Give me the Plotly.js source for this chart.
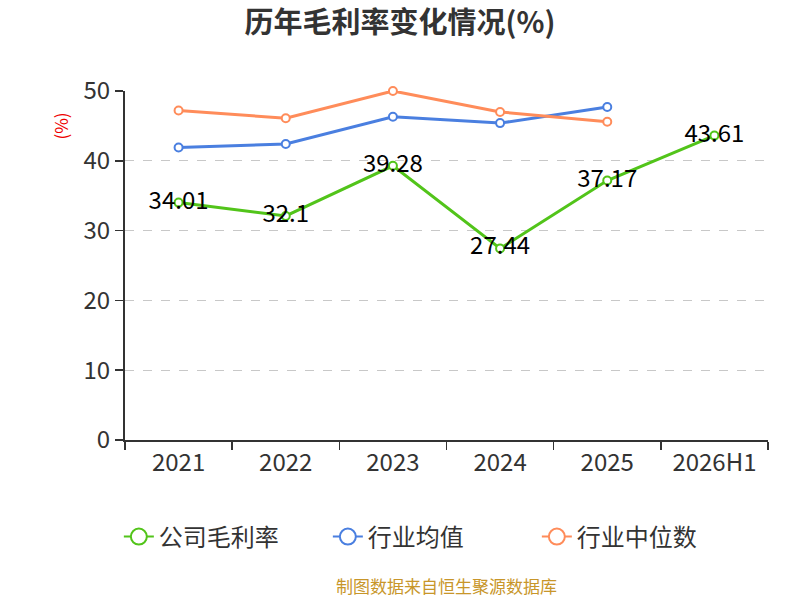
<!DOCTYPE html>
<html>
<head>
<meta charset="utf-8">
<script src="https://cdn.plot.ly/plotly-3.0.1.min.js"></script>
<style>
  html, body { margin: 0; padding: 0; background: #fff; }
  #chart { width: 800px; height: 600px; }
</style>
</head>
<body>
<div id="chart"></div>
<script>
// ======================= DATA =======================
const years = ['2021', '2022', '2023', '2024', '2025', '2026H1'];
const gongsi = [34.01, 32.1, 39.28, 27.44, 37.17, 43.61];
const hangyeJun = [41.9, 42.4, 46.3, 45.4, 47.7];
const hangyeZhong = [47.2, 46.1, 50.0, 47.0, 45.6];

const seriesNames = ['公司毛利率', '行业均值', '行业中位数'];
const seriesColors = ['#52c41a', '#4a7fe0', '#ff8c5a'];

const FONT = '"Noto Sans CJK SC", "Noto Sans", sans-serif';

function lineTrace(name, y, color, labels) {
  const t = {
    x: years.slice(0, y.length), y: y, name: name,
    type: 'scatter', mode: 'lines+markers', showlegend: false,
    line: { color: color, width: 3 },
    marker: { symbol: 'circle', size: 8, color: '#fff', line: { color: color, width: 2 } },
    cliponaxis: false
  };
  if (labels) {
    t.mode = 'lines+markers+text';
    t.text = y.map(v => String(v));
    t.textposition = 'middle center';
    t.textfont = { size: 24, color: '#000', family: FONT };
  }
  return t;
}

// bigger legend symbols (legend-only copies)
function legendTrace(name, color) {
  return {
    x: [null], y: [null], name: name, type: 'scatter', mode: 'lines+markers',
    line: { color: color, width: 2 },
    marker: { symbol: 'circle', size: 20, color: '#fff', line: { color: color, width: 2 } }
  };
}

const traces = [
  lineTrace(seriesNames[0], gongsi, seriesColors[0], true),
  lineTrace(seriesNames[1], hangyeJun, seriesColors[1], false),
  lineTrace(seriesNames[2], hangyeZhong, seriesColors[2], false)
];
seriesNames.forEach((n, i) => traces.push(legendTrace(n, seriesColors[i])));

const layout = {
  width: 800, height: 600,
  margin: { l: 125, r: 32, t: 91, b: 160 },
  paper_bgcolor: '#fff', plot_bgcolor: '#fff',
  font: { family: FONT, color: '#333' },
  showlegend: true,
  title: {
    text: '历年毛利率变化情况(%)',
    font: { size: 29, color: '#333', family: FONT, weight: 'bold' },
    x: 0.5, xanchor: 'center', y: 0.962, yanchor: 'middle'
  },
  xaxis: {
    type: 'category', range: [-0.5, 5.5],
    showline: true, linecolor: '#333', linewidth: 2,
    ticks: 'outside', tickson: 'boundaries', ticklen: 8, tickcolor: '#333', tickwidth: 1.5,
    tickfont: { size: 24, color: '#333' },
    showgrid: false, zeroline: false
  },
  yaxis: {
    range: [0, 50], tickvals: [0, 10, 20, 30, 40, 50],
    showline: true, linecolor: '#333', linewidth: 2,
    ticks: 'outside', ticklen: 8, tickcolor: '#333', tickwidth: 1.5,
    tickfont: { size: 24, color: '#333' },
    showgrid: true, gridcolor: '#c8c8c8', griddash: 'dash', gridwidth: 1.2,
    zeroline: false
  },
  legend: {
    orientation: 'h', x: 0.478, xanchor: 'center', y: -0.278, yanchor: 'middle',
    font: { size: 24, color: '#333', family: FONT },
    entrywidth: 164, entrywidthmode: 'pixels'
  },
  annotations: [
    {
      text: '(%)', xref: 'paper', yref: 'paper', x: -0.1, y: 0.9,
      xanchor: 'center', yanchor: 'middle', textangle: -90, showarrow: false,
      font: { size: 17, color: '#e00', family: FONT }
    },
    {
      text: '制图数据来自恒生聚源数据库', xref: 'paper', yref: 'paper', x: 0.5, y: -0.418,
      xanchor: 'center', yanchor: 'middle', showarrow: false,
      font: { size: 17, color: '#c8962a', family: FONT }
    }
  ]
};

Plotly.newPlot('chart', traces, layout, { displayModeBar: false, staticPlot: true });
</script>
</body>
</html>
